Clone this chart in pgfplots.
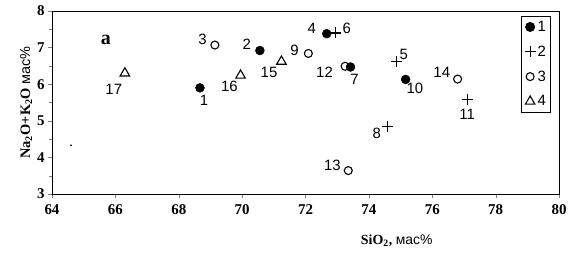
\documentclass[border=0pt]{standalone}
\usepackage{fontspec}
\setmainfont{Liberation Serif}
\newfontfamily\lsans{Liberation Sans}
\usepackage{pgfplots}
\pgfplotsset{compat=1.18}
\begin{document}
\begin{tikzpicture}
\begin{axis}[
  scale only axis,
  width=507bp, height=183bp,
  xmin=64, xmax=80, ymin=3, ymax=8,
  xtick={64,66,...,80}, ytick={3,4,...,8},
  minor y tick num=1,
  tick align=outside,
  major tick length=4pt,
  xtick pos=bottom, ytick pos=left,
  ticklabel style={font=\bfseries\fontsize{15}{15}\selectfont},
  xticklabel style={yshift=-3pt},
  /pgf/number format/assume math mode=true,
  xlabel={\bfseries SiO\textsubscript{2}, \lsans\mdseries мас\%},
  xlabel style={at={(rel axis cs:0.68,0)}, anchor=north, yshift=-37pt, font=\fontsize{14}{14}\selectfont},
  ylabel={\bfseries Na\textsubscript{2}O+K\textsubscript{2}O \lsans\mdseries мас\%},
  ylabel style={font=\fontsize{14.5}{14.5}\selectfont, yshift=-2pt},
  clip=false,
  legend style={at={(rel axis cs:0.985,0.975)}, anchor=north east, draw=black, line width=1pt,
    font=\lsans\fontsize{15}{15}\selectfont, row sep=9pt, inner sep=3pt},
  legend cell align=left,
]
\addplot[only marks, mark=*, mark size=4.5pt, fill=black] coordinates {
 (68.67,5.90) (70.56,6.92) (72.67,7.38) (73.42,6.47) (75.16,6.13)};
\addlegendentry{1}
\addplot[only marks, mark=+, mark size=5.5pt, line width=1.1pt] coordinates {
 (72.95,7.40) (74.87,6.62) (74.6,4.84) (77.1,5.57)};
\addlegendentry{2}
\addplot[only marks, mark=o, mark size=4pt, line width=1.1pt] coordinates {
 (69.14,7.07) (72.09,6.84) (73.25,6.49) (73.35,3.64) (76.8,6.14)};
\addlegendentry{3}
\addplot[only marks, mark=triangle, mark size=5.5pt, line width=1.1pt] coordinates {
 (66.30,6.30) (69.95,6.24) (71.24,6.62)};
\addlegendentry{4}
\addplot[only marks, mark=*, mark size=0.6pt, forget plot] coordinates {(64.6,4.33)};
\coordinate (sw) at (rel axis cs:0,0);
\begin{scope}[every node/.style={font=\lsans\fontsize{15}{15}\selectfont, inner sep=0pt}]
\node at (axis cs:68.8,5.55) {1};
\node at (axis cs:70.15,7.1) {2};
\node at (axis cs:68.75,7.22) {3};
\node at (axis cs:72.2,7.52) {4};
\node at (axis cs:75.1,6.8) {5};
\node at (axis cs:73.3,7.52) {6};
\node at (axis cs:73.55,6.12) {7};
\node at (axis cs:74.25,4.65) {8};
\node at (axis cs:71.65,6.92) {9};
\node at (axis cs:75.45,5.88) {10};
\node at (axis cs:77.1,5.17) {11};
\node at (axis cs:72.6,6.33) {12};
\node at (axis cs:72.85,3.77) {13};
\node at (axis cs:76.3,6.33) {14};
\node at (axis cs:70.85,6.33) {15};
\node at (axis cs:69.6,5.93) {16};
\node at (axis cs:65.95,5.85) {17};
\end{scope}
\node[font=\bfseries\fontsize{20}{20}\selectfont] at (axis cs:65.7,7.2) {a};
\end{axis}
\pgfresetboundingbox
\path[use as bounding box] (sw) ++(-52bp,-64bp) rectangle ++(579bp,258bp);
\end{tikzpicture}
\end{document}
